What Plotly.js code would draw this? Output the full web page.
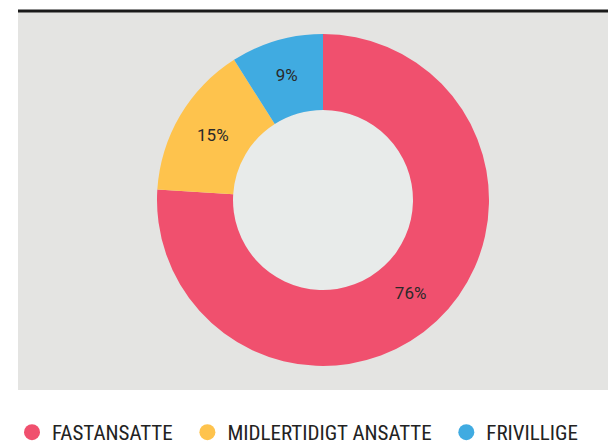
<!DOCTYPE html>
<html>
<head>
<meta charset="utf-8">
<script src="https://cdn.plot.ly/plotly-3.0.1.min.js"></script>
<style>html,body{margin:0;padding:0;background:#fff;overflow:hidden;}#chart{width:608px;height:453px;}</style>
</head>
<body>
<div id="chart"></div>
<script>
const categories = ["FASTANSATTE", "MIDLERTIDIGT ANSATTE", "FRIVILLIGE"];
const shares = [76, 15, 9];
const colors = ["#f0506e", "#fec34d", "#40abe1"];

// canvas is slightly taller than the 444px view so the legend row sits near the very bottom edge
const W = 608, H = 453;
const cx = 323, cy = 200, rOut = 166, rIn = 90;
const px = x => x / W, py = y => 1 - y / H;

const traces = [{
  type: "pie",
  labels: categories,
  values: shares,
  marker: {colors: colors, line: {width: 0}},
  hole: rIn / rOut,
  sort: false,
  direction: "clockwise",
  rotation: 0,
  textinfo: "text",
  text: shares.map(v => v + "%"),
  textposition: "inside",
  insidetextorientation: "horizontal",
  insidetextfont: {family: "Roboto, sans-serif", size: 17, color: "#2a2a2a"},
  showlegend: false,
  hoverinfo: "label+percent",
  domain: {x: [px(cx - rOut), px(cx + rOut)], y: [py(cy + rOut), py(cy - rOut)]}
}];
categories.forEach((c, i) => {
  traces.push({
    type: "scatter", mode: "markers", x: [null], y: [null],
    name: c + (i < categories.length - 1 ? "\u00a0\u00a0" : ""),
    marker: {color: colors[i], size: 16, symbol: "circle"},
    showlegend: true, hoverinfo: "skip"
  });
});

const layout = {
  width: W, height: H,
  margin: {l: 0, r: 0, t: 0, b: 0},
  paper_bgcolor: "#ffffff",
  plot_bgcolor: "rgba(0,0,0,0)",
  xaxis: {visible: false, domain: [0, 0.01]},
  yaxis: {visible: false, domain: [0, 0.01]},
  showlegend: true,
  legend: {
    orientation: "h",
    x: px(12), xanchor: "left", y: 0, yanchor: "bottom",
    font: {family: "Liberation Sans Narrow, Roboto Condensed, Roboto, sans-serif", size: 21, color: "#222222"},
    itemsizing: "trace", tracegroupgap: 0, bgcolor: "rgba(0,0,0,0)", itemwidth: 30
  },
  shapes: [
    {type: "rect", xref: "paper", yref: "paper", x0: px(18), x1: 1, y0: py(390), y1: py(12), fillcolor: "#e4e4e2", line: {width: 0}, layer: "below"},
    {type: "line", xref: "paper", yref: "paper", x0: px(18), x1: 1, y0: py(11), y1: py(11), line: {color: "#1a1a1a", width: 3}, layer: "below"},
    {type: "circle", xref: "paper", yref: "paper", x0: px(cx - rIn), x1: px(cx + rIn), y0: py(cy + rIn), y1: py(cy - rIn), fillcolor: "#e8ebea", line: {width: 0}, layer: "below"}
  ]
};
Plotly.newPlot("chart", traces, layout, {displayModeBar: false, staticPlot: true});
</script>
</body>
</html>
